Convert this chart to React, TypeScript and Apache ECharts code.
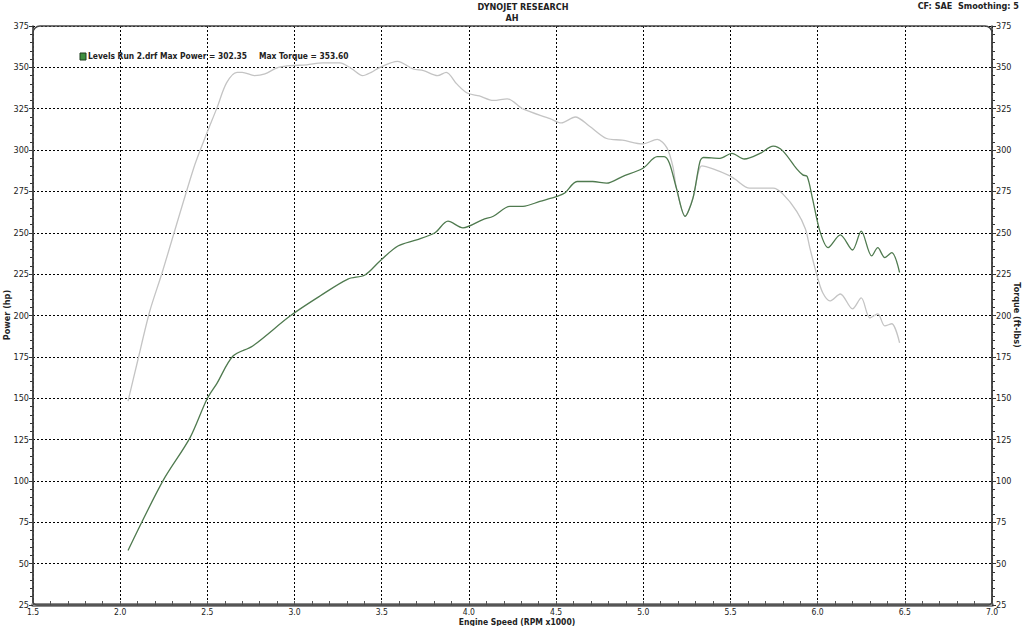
import React, { useEffect, useRef } from "react";
import * as echarts from "echarts";

const powerData: [number, number][] = [
  [2.045, 58], [2.245, 100], [2.4, 126], [2.498, 149.5], [2.555, 159], [2.647, 175.5],
  [2.76, 181.6], [2.974, 199.7], [3.146, 211.8], [3.306, 222], [3.404, 224.5],
  [3.49, 233], [3.593, 242], [3.7, 245.7], [3.805, 250], [3.88, 257], [3.966, 253],
  [4.08, 258], [4.14, 260], [4.235, 266], [4.31, 266], [4.407, 269], [4.505, 272],
  [4.55, 274], [4.62, 281], [4.71, 281], [4.79, 280], [4.88, 284], [4.998, 289],
  [5.08, 296], [5.12, 296], [5.15, 292], [5.19, 277], [5.24, 260], [5.285, 271],
  [5.325, 293], [5.345, 295.5], [5.44, 295], [5.508, 298], [5.58, 294.6], [5.67, 298],
  [5.745, 302.4], [5.8, 299.5], [5.88, 288.6], [5.915, 285], [5.94, 284], [5.97, 271],
  [6.013, 251], [6.06, 241], [6.13, 248.7], [6.2, 239.6], [6.25, 251], [6.31, 236],
  [6.345, 241], [6.385, 235], [6.425, 238], [6.47, 226],
];

const torqueData: [number, number][] = [
  [2.045, 148.3], [2.1, 172.5], [2.17, 202.7], [2.24, 225.7], [2.42, 288.6],
  [2.485, 307], [2.555, 325.5], [2.61, 340.6], [2.67, 347], [2.7, 347], [2.77, 345],
  [2.83, 346], [2.9, 349.7], [2.97, 351], [3.07, 351.5], [3.16, 352.7], [3.26, 352.7],
  [3.33, 349], [3.39, 345], [3.44, 347], [3.49, 350], [3.59, 353.6], [3.68, 349],
  [3.74, 348], [3.82, 345], [3.87, 347], [3.93, 340], [3.99, 334.5], [4.06, 332.7],
  [4.14, 330], [4.22, 331], [4.31, 324.9], [4.465, 319], [4.53, 316.4], [4.61, 320],
  [4.69, 314.6], [4.79, 307], [4.88, 306], [4.998, 303.7], [5.08, 306.5], [5.135, 301.5],
  [5.17, 290], [5.19, 277], [5.24, 260], [5.285, 271], [5.336, 290.4], [5.4, 288.6],
  [5.497, 284.4], [5.525, 282.5], [5.61, 277], [5.745, 277], [5.8, 273.5], [5.88, 263],
  [5.93, 252.3], [5.955, 241], [6.0, 222.7], [6.03, 213.6], [6.07, 208.8], [6.13, 213],
  [6.2, 204], [6.25, 210.6], [6.3, 198.5], [6.345, 201], [6.385, 193.7], [6.425, 195],
  [6.47, 183.4],
];

const titleText = "DYNOJET RESEARCH";
const subtitleText = "AH";
const cornerText = "CF: SAE  Smoothing: 5";
const legendPower = "Levels Run 2.drf Max Power = 302.35";
const legendTorque = "Max Torque = 353.60";
const xAxisName = "Engine Speed (RPM x1000)";
const leftAxisName = "Power (hp)";
const rightAxisName = "Torque (ft-lbs)";

const FONT = "'DejaVu Sans Condensed', 'DejaVu Sans', sans-serif";

export default function App() {
  const ref = useRef<HTMLDivElement>(null);
  useEffect(() => {
    if (!ref.current) return;
    const chart = echarts.init(ref.current, null, { renderer: "svg" });
    const L = 33, T = 26, R = 32, B = 21;
    const W = 1024, H = 626;
    const yAxisCommon = {
      type: "value" as const,
      min: 25,
      max: 375,
      interval: 25,
      axisLine: { show: true, lineStyle: { color: "#333", width: 1.5 } },
      axisTick: { show: true, length: 4, lineStyle: { color: "#333" } },
      minorTick: { show: true, splitNumber: 5, length: 3, lineStyle: { color: "#333" } },
      axisLabel: { color: "#222", fontSize: 9, fontFamily: FONT, margin: 4 },
    };
    chart.setOption({
      animation: false,
      backgroundColor: "#ffffff",
      grid: { left: L, right: R, top: T, bottom: B, containLabel: false, outerBoundsMode: "none" },
      xAxis: {
        type: "value",
        min: 1.5,
        max: 7,
        interval: 0.5,
        axisLine: { show: true, onZero: false, lineStyle: { color: "#8a8a8a", width: 4 } },
        axisTick: { show: true, length: 4, inside: true, lineStyle: { color: "#555" } },
        minorTick: { show: true, splitNumber: 5, length: 4, lineStyle: { color: "#555" } },
        axisLabel: {
          color: "#222", fontSize: 8.5, fontFamily: FONT, margin: 2,
          formatter: (v: number) => v.toFixed(1),
        },
        splitLine: { show: true, lineStyle: { color: "#000", type: [2, 2], width: 1 } },
      },
      yAxis: [
        {
          ...yAxisCommon,
          position: "left",
          splitLine: { show: true, lineStyle: { color: "#000", type: [2, 2], width: 1 } },
        },
        {
          ...yAxisCommon,
          position: "right",
          splitLine: { show: false },
        },
      ],
      series: [
        {
          name: "Torque",
          type: "line",
          yAxisIndex: 1,
          data: torqueData,
          smooth: 0.3,
          showSymbol: false,
          lineStyle: { color: "#c4c4c4", width: 1.3 },
          z: 2,
        },
        {
          name: "Power",
          type: "line",
          yAxisIndex: 0,
          data: powerData,
          smooth: 0.3,
          showSymbol: false,
          lineStyle: { color: "#4f7a4f", width: 1.3 },
          z: 3,
        },
      ],
      graphic: [
        {
          type: "rect",
          shape: { x: L, y: T, width: W - L - R, height: H - T - B, r: [7, 7, 4, 4] },
          style: { fill: "none", stroke: "#444", lineWidth: 1.5 },
          silent: true,
          z: 10,
        },
        {
          type: "text", x: 523, y: 2,
          style: { text: titleText, font: `bold 9px ${FONT}`, fill: "#222", textAlign: "center" },
        },
        {
          type: "text", x: 512, y: 13,
          style: { text: subtitleText, font: `bold 9px ${FONT}`, fill: "#222", textAlign: "center" },
        },
        {
          type: "text", x: 1019, y: 1,
          style: { text: cornerText, font: `bold 9px ${FONT}`, fill: "#222", textAlign: "right" },
        },
        {
          type: "text", x: 517, y: 621.5,
          style: {
            text: xAxisName, font: `bold 8.5px ${FONT}`, fill: "#222",
            textAlign: "center", textVerticalAlign: "middle",
          },
        },
        {
          type: "text", x: 7, y: 315, rotation: Math.PI / 2,
          style: {
            text: leftAxisName, font: `bold 9px ${FONT}`, fill: "#222",
            textAlign: "center", textVerticalAlign: "middle",
          },
        },
        {
          type: "text", x: 1017, y: 315, rotation: -Math.PI / 2,
          style: {
            text: rightAxisName, font: `bold 9px ${FONT}`, fill: "#222",
            textAlign: "center", textVerticalAlign: "middle",
          },
        },
        {
          type: "rect",
          shape: { x: 80, y: 53, width: 6, height: 7 },
          style: { fill: "#3f8f3f", stroke: "#1e3d1e", lineWidth: 1 },
          z: 20,
        },
        {
          type: "text", x: 88, y: 52,
          style: { text: legendPower, font: `bold 8.4px ${FONT}`, fill: "#222" },
          z: 20,
        },
        {
          type: "text", x: 259, y: 52,
          style: { text: legendTorque, font: `bold 8.4px ${FONT}`, fill: "#222" },
          z: 20,
        },
      ],
    });
    return () => chart.dispose();
  }, []);
  return (
    <div
      ref={ref}
      style={{ position: "absolute", left: 0, top: 0, width: 1024, height: 626 }}
    />
  );
}
